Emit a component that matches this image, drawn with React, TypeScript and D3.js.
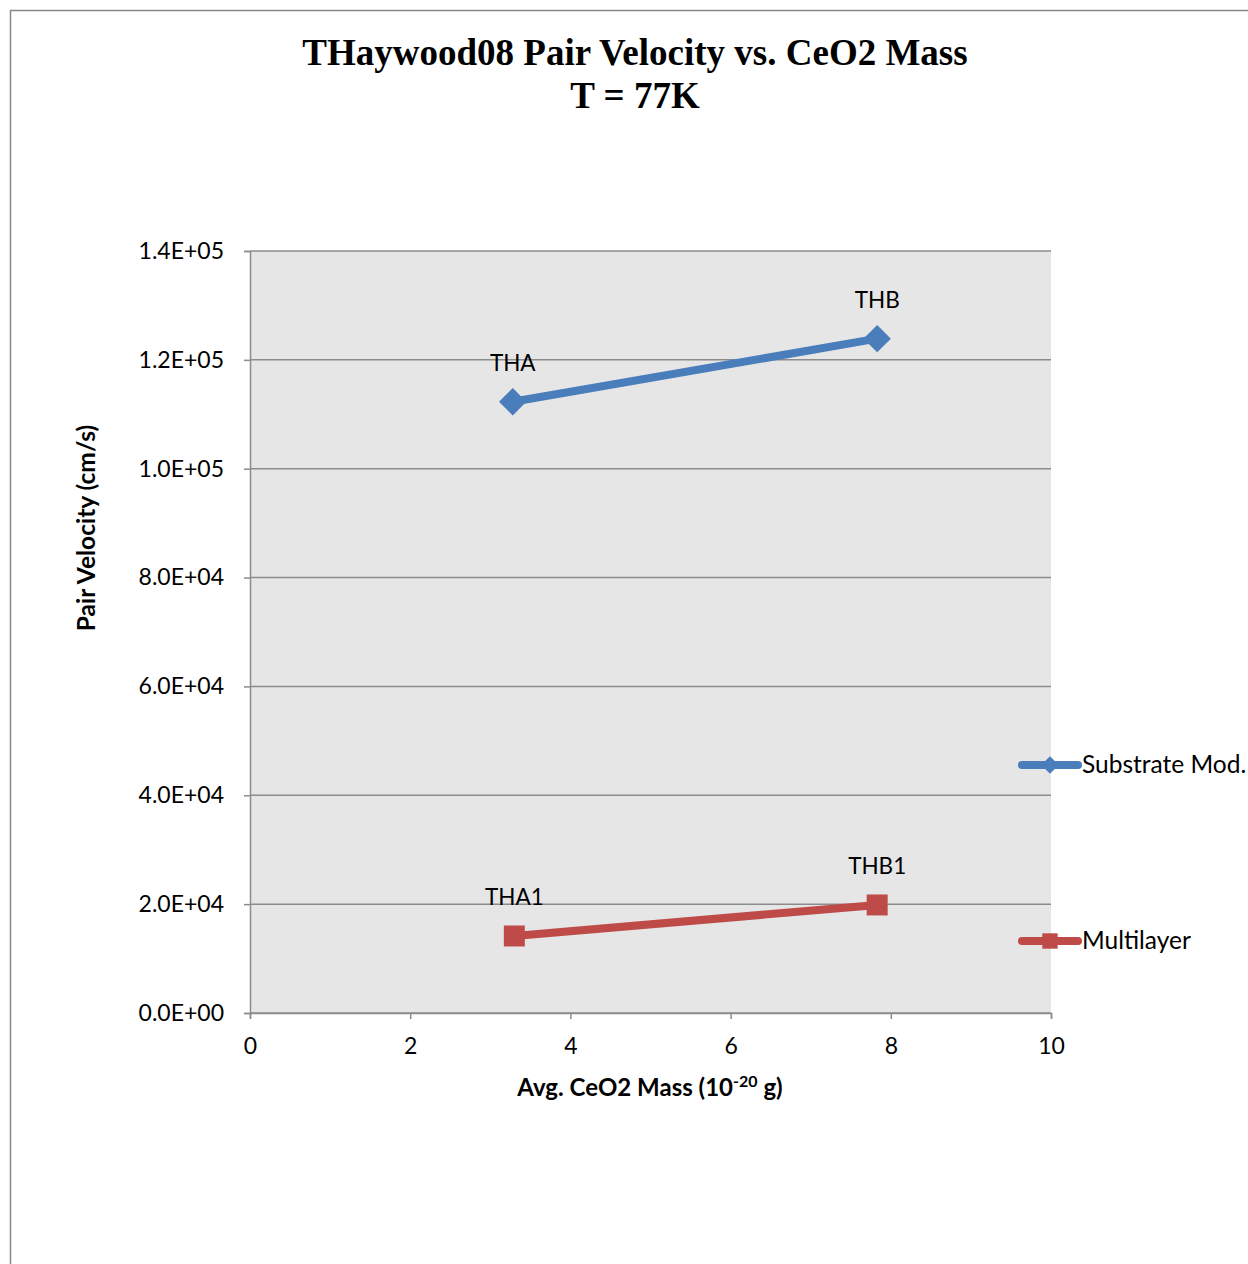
import React, { useEffect, useRef } from 'react';
import * as d3 from 'd3';

const seriesNames = ['Substrate Mod.', 'Multilayer'];
const seriesColors = ['#4a7ebb', '#be4b48'];
const substrateX = [3.28, 7.83];
const substrateY = [112300, 123900];
const substrateLabels = ['THA', 'THB'];
const multilayerX = [3.3, 7.83];
const multilayerY = [14150, 19850];
const multilayerLabels = ['THA1', 'THB1'];
const xTicks = [0, 2, 4, 6, 8, 10];
const yTicks = [0, 20000, 40000, 60000, 80000, 100000, 120000, 140000];

const App = () => {
  const svgRef = useRef<SVGSVGElement>(null);
  const svgWidth = 1248;
  const svgHeight = 1264;
  const margin = { top: 251, left: 250, right: 197, bottom: 251 };
  const width = svgWidth - margin.left - margin.right;
  const height = svgHeight - margin.top - margin.bottom;
  const font = 'Lato, "Open Sans", sans-serif';

  useEffect(() => {
    const svg = d3.select(svgRef.current);
    svg.selectAll('*').remove();

    // outer chart border (runs off the right and bottom)
    svg.append('path')
      .attr('d', `M10.5,${svgHeight} V10.5 H${svgWidth}`)
      .attr('fill', 'none')
      .attr('stroke', '#888')
      .attr('stroke-width', 1.5);

    svg.append('text')
      .attr('x', 635).attr('y', 65)
      .attr('text-anchor', 'middle')
      .attr('font-family', '"Liberation Serif", "Times New Roman", serif')
      .attr('font-weight', 'bold')
      .attr('font-size', 37)
      .text('THaywood08 Pair Velocity vs. CeO2 Mass');
    svg.append('text')
      .attr('x', 635).attr('y', 108)
      .attr('text-anchor', 'middle')
      .attr('font-family', '"Liberation Serif", "Times New Roman", serif')
      .attr('font-weight', 'bold')
      .attr('font-size', 37)
      .text('T = 77K');

    const x = d3.scaleLinear().domain([0, 10]).range([0, width]);
    const y = d3.scaleLinear().domain([0, 140000]).range([height, 0]);

    const g = svg.append('g')
      .attr('transform', `translate(${margin.left},${margin.top})`);

    g.append('rect')
      .attr('width', width).attr('height', height)
      .attr('fill', '#e6e6e6');

    g.selectAll('.grid')
      .data(yTicks)
      .enter().append('line')
      .attr('x1', 0).attr('x2', width)
      .attr('y1', d => y(d)).attr('y2', d => y(d))
      .attr('stroke', '#8c8c8c')
      .attr('stroke-width', 1.5);

    const yAxis = g.append('g')
      .call(d3.axisLeft(y).tickValues(yTicks).tickSize(6).tickPadding(20)
        .tickFormat(d => {
          const v = d as number;
          if (v === 0) return '0.0E+00';
          const e = Math.floor(Math.log10(v));
          return `${(v / 10 ** e).toFixed(1)}E+${String(e).padStart(2, '0')}`;
        }));
    yAxis.select('.domain').attr('stroke', '#8c8c8c').attr('stroke-width', 1.5);
    yAxis.selectAll('line').attr('stroke', '#8c8c8c').attr('stroke-width', 1.5);
    yAxis.selectAll('text').attr('font-family', font).attr('font-size', 23).attr('fill', '#000');

    const xAxis = g.append('g')
      .attr('transform', `translate(0,${height})`)
      .call(d3.axisBottom(x).tickValues(xTicks).tickSize(6).tickPadding(19));
    xAxis.select('.domain').attr('stroke', '#8c8c8c').attr('stroke-width', 1.5);
    xAxis.selectAll('line').attr('stroke', '#8c8c8c').attr('stroke-width', 1.5);
    xAxis.selectAll('text').attr('font-family', font).attr('font-size', 23).attr('fill', '#000');

    const series = [
      { xs: substrateX, ys: substrateY, labels: substrateLabels, symbol: d3.symbolDiamond2, size: 480 },
      { xs: multilayerX, ys: multilayerY, labels: multilayerLabels, symbol: d3.symbolSquare2, size: 560 },
    ];

    const line = d3.line<[number, number]>().x(d => x(d[0])).y(d => y(d[1]));

    series.forEach((s, i) => {
      const pts: [number, number][] = s.xs.map((v, j) => [v, s.ys[j]]);
      g.append('path')
        .attr('d', line(pts))
        .attr('fill', 'none')
        .attr('stroke', seriesColors[i])
        .attr('stroke-width', 8);
      g.selectAll(`.pt${i}`)
        .data(pts)
        .enter().append('path')
        .attr('transform', d => `translate(${x(d[0])},${y(d[1])})`)
        .attr('d', d3.symbol().type(s.symbol).size(s.size)())
        .attr('fill', seriesColors[i]);
      g.selectAll(`.lbl${i}`)
        .data(pts)
        .enter().append('text')
        .attr('x', d => x(d[0]))
        .attr('y', d => y(d[1]) - 31)
        .attr('text-anchor', 'middle')
        .attr('font-family', font)
        .attr('font-size', 22.5)
        .text((d, j) => s.labels[j]);
    });

    // axis titles
    svg.append('text')
      .attr('transform', 'translate(95,528) rotate(-90)')
      .attr('text-anchor', 'middle')
      .attr('font-family', font)
      .attr('font-weight', 'bold')
      .attr('font-size', 24.5)
      .text('Pair Velocity (cm/s)');

    const xt = svg.append('text')
      .attr('x', 650).attr('y', 1096)
      .attr('text-anchor', 'middle')
      .attr('font-family', font)
      .attr('font-weight', 'bold')
      .attr('font-size', 24);
    xt.append('tspan').text('Avg. CeO2 Mass (10');
    xt.append('tspan').attr('dy', -9).attr('font-size', 16).text('-20');
    xt.append('tspan').attr('dy', 9).text(' g)');

    // legend
    const legendY = [765, 941];
    series.forEach((s, i) => {
      const lg = svg.append('g').attr('transform', `translate(1022,${legendY[i]})`);
      lg.append('line')
        .attr('x1', 0).attr('x2', 56)
        .attr('stroke', seriesColors[i])
        .attr('stroke-width', 8)
        .attr('stroke-linecap', 'round');
      lg.append('path')
        .attr('transform', 'translate(28,0)')
        .attr('d', d3.symbol().type(s.symbol).size(i === 0 ? 200 : 300)())
        .attr('fill', seriesColors[i]);
      lg.append('text')
        .attr('x', 60).attr('y', 8)
        .attr('font-family', font)
        .attr('font-size', 24.5)
        .text(seriesNames[i]);
    });
  }, []);

  return (
    <svg ref={svgRef} width={svgWidth} height={svgHeight}
      style={{ position: 'absolute', left: 0, top: 0, background: '#fff' }} />
  );
};

export default App;
